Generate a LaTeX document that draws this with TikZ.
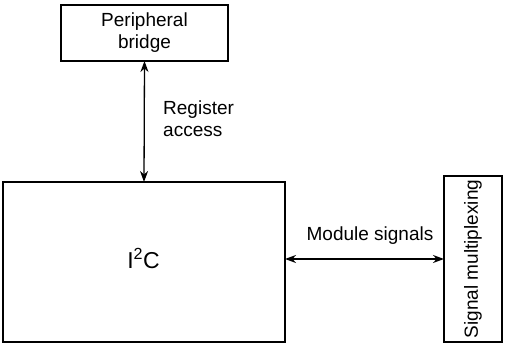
\documentclass[tikz,border=0pt]{standalone}
\usepackage{fontspec}
\setmainfont{Liberation Sans}
\usetikzlibrary{arrows.meta}
\begin{document}
\begin{tikzpicture}[x=1pt,y=-1pt,
  box/.style={draw, line width=1.3pt, inner sep=0pt, outer sep=0pt},
  txt/.style={font=\fontsize{19}{22}\selectfont, align=center, inner sep=0pt},
  link/.style={line width=1.3pt, {Stealth[length=11pt,width=8pt,inset=3.5pt]}-{Stealth[length=11pt,width=8pt,inset=3.5pt]}}]
\useasboundingbox (0,0) rectangle (506,344);
\node[box, minimum width=167pt, minimum height=56pt] (pb) at (144.5,33) {};
\node[txt] at (pb.center) {Peripheral\\bridge};
\node[box, minimum width=282pt, minimum height=160pt] (i2c) at (144,262) {};
\node[font=\fontsize{23}{26}\selectfont, inner sep=0pt] (lbl) at (143.5,258.5) {I\textsuperscript{2}C};
\node[box, minimum width=58pt, minimum height=166pt] (sm) at (473,259) {};
\node[txt, rotate=90] at (sm.center) {Signal multiplexing};
\draw[link] (pb.south) -- (i2c.north);
\draw[link] (sm.west -| i2c.east) -- (sm.west);
\node[txt, align=left, anchor=west] (ra) at (163,119) {Register\\access};
\node[txt] (ms) at (370,236) {Module signals};
\end{tikzpicture}
\end{document}
